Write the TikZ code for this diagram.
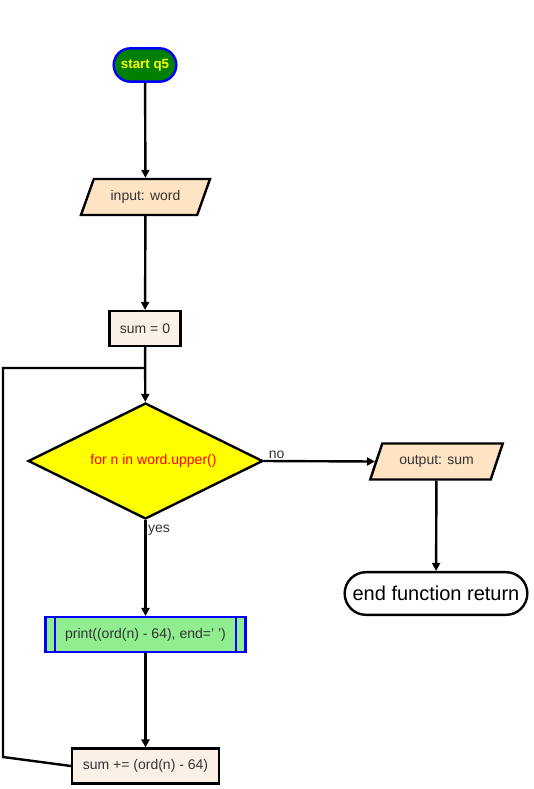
\documentclass[tikz,border=0pt]{standalone}
\usepackage{fontspec}
\setmainfont{Liberation Sans}
\usetikzlibrary{
  positioning, arrows.meta, shapes.geometric, shapes.misc,
}
\definecolor{cStartFill} {HTML}{008000}
\definecolor{cStartLine} {HTML}{0000FF}
\definecolor{cStartText} {HTML}{FFFF00}
\definecolor{cIoFill}    {HTML}{FFE4C4}
\definecolor{cProcFill}  {HTML}{FAF0E6}
\definecolor{cDecFill}   {HTML}{FFFF00}
\definecolor{cDecText}   {HTML}{FF0000}
\definecolor{cSubFill}   {HTML}{90EE90}
\definecolor{cText}      {HTML}{333333}

\tikzset{
  flowLine/.style={line width=1.8pt, -{Triangle[length=6pt, width=6pt]}},
  plainLine/.style={line width=1.8pt},
  termNode/.style={rounded rectangle, draw, line width=1.8pt, inner sep=2pt},
  ioNode/.style={trapezium, trapezium left angle=67, trapezium right angle=113,
    trapezium stretches=true,
    draw, line width=1.8pt, fill=cIoFill, text=cText, font=\fontsize{10.5}{12}\selectfont,
    minimum height=27pt, inner xsep=2pt},
  procNode/.style={rectangle, draw, line width=1.8pt, fill=cProcFill, text=cText,
    font=\fontsize{10.5}{12}\selectfont, minimum height=26pt},
  decNode/.style={diamond, draw, line width=1.8pt, fill=cDecFill, text=cDecText,
    font=\fontsize{10.5}{12}\selectfont, aspect=2, minimum width=176pt,
    minimum height=87pt, inner sep=0pt},
  subNode/.style={rectangle, draw=cStartLine, line width=1.8pt, fill=cSubFill, text=cText,
    font=\fontsize{10.5}{12}\selectfont, minimum height=26pt},
  edgeLabel/.style={font=\fontsize{10.5}{12}\selectfont, text=cText, inner sep=1pt},
}

\begin{document}
\begin{tikzpicture}[x=0.75pt, y=-0.75pt]
  \useasboundingbox (0,0) rectangle (533,789);

  % nodes
  \node[termNode, fill=cStartFill, draw=cStartLine, text=cStartText,
        font=\bfseries\fontsize{10}{12}\selectfont, minimum width=51pt, minimum height=25pt]
        (startQ) at (145,65) {start q5};
  \node[ioNode, minimum width=97pt] (inWord) at (145.5,197) {input: word};
  \node[procNode, minimum width=53pt] (sumZero) at (145,328.5) {sum = 0};
  \node[decNode] (forLoop) at (145.5,461) {\hspace*{12pt}for n in word.upper()};
  \node[ioNode, minimum width=100pt] (outSum) at (436.5,461.5) {output: sum};
  \node[termNode, fill=white, font=\fontsize{15}{18}\selectfont,
        minimum width=141pt, minimum height=32pt] (endRet) at (436,593.5) {end function return};
  \node[subNode, minimum width=150pt] (prnt) at (145.5,634.5) {print((ord(n) - 64), end=' ')};
  \node[procNode, minimum width=110pt] (sumAdd) at (145.5,766) {sum += (ord(n) - 64)};

  % inner bars of the subroutine box
  \draw[cStartLine, line width=1.8pt] ([xshift=8pt]prnt.north west) -- ([xshift=8pt]prnt.south west);
  \draw[cStartLine, line width=1.8pt] ([xshift=-8pt]prnt.north east) -- ([xshift=-8pt]prnt.south east);

  % loop back
  \coordinate (loopA) at (3,757);
  \coordinate (loopB) at (3,368);
  \coordinate (loopJoin) at (145,368);

  % connectors
  \draw[flowLine] (startQ) -- (inWord);
  \draw[flowLine] (inWord) -- (sumZero);
  \draw[flowLine] (sumZero) -- (forLoop);
  \draw[flowLine] (forLoop.east) -- (outSum.west)
    node[edgeLabel, pos=0.02, above right] {no};
  \draw[flowLine] (forLoop.south) -- (prnt.north)
    node[edgeLabel, pos=0.02, below right] {yes};
  \draw[flowLine] (outSum) -- (endRet);
  \draw[flowLine] (prnt) -- (sumAdd);
  \draw[plainLine] (sumAdd.west) -- (loopA) -- (loopB) -- (loopJoin);
\end{tikzpicture}
\end{document}
